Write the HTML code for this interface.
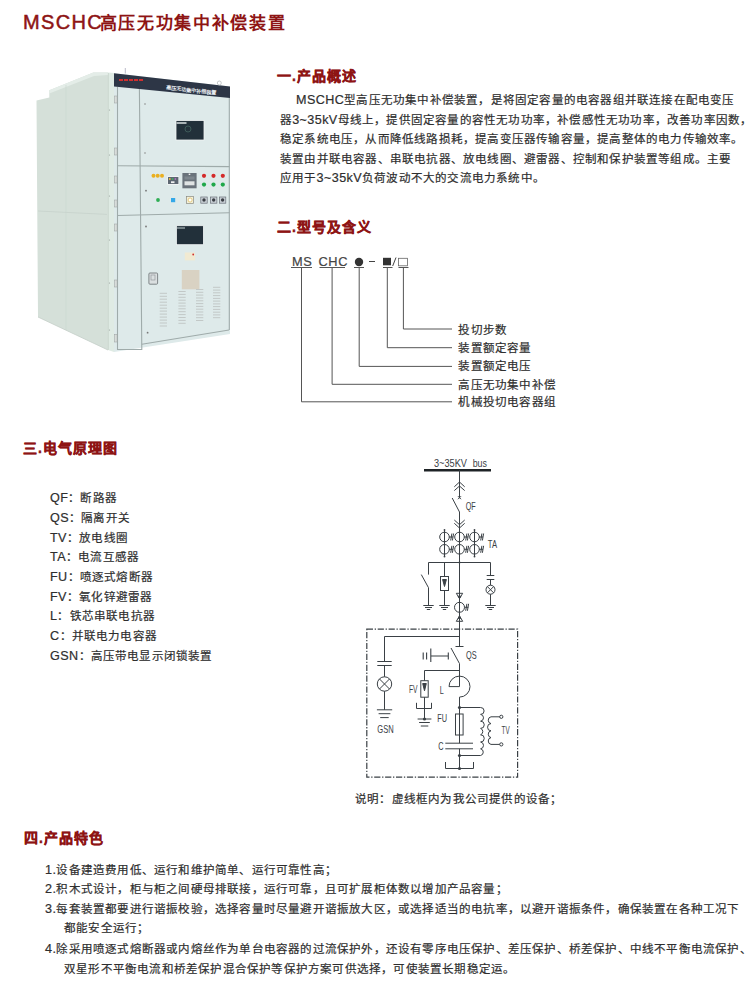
<!DOCTYPE html>
<html lang="zh-CN">
<head>
<meta charset="utf-8">
<style>

html,body{margin:0;padding:0;background:#fff;}
body{width:750px;height:990px;position:relative;overflow:hidden;font-family:"Liberation Sans",sans-serif;color:#333;}
.t{position:absolute;white-space:nowrap;font-size:11.5px;letter-spacing:1.2px;line-height:20px;color:#2e2e2e;-webkit-text-stroke:0.2px #2e2e2e;}
.l{font-size:12.6px;letter-spacing:0.4px;}
.h{position:absolute;white-space:nowrap;font-size:14px;letter-spacing:1px;line-height:20px;font-weight:bold;color:#8e1414;-webkit-text-stroke:0.35px #8e1414;}
#title{position:absolute;left:23px;top:10px;line-height:24px;color:#8e1414;white-space:nowrap;}
#title .a{font-size:20px;letter-spacing:1.35px;-webkit-text-stroke:0.5px #8e1414;}
#title .b{font-size:17px;letter-spacing:1.67px;font-weight:bold;margin-left:-3.5px;}
svg{position:absolute;left:0;top:0;}

</style>
</head>
<body>
<svg width="750" height="990" viewBox="0 0 750 990">
  <!-- cabinet -->
  <g id="cab">
    <!-- side panel -->
    <polygon points="36.5,100.5 49.3,97.5 49.3,90.2 93.3,72.6 108,72.6 108,350 38,317" fill="#d5e0d9"/>
    <polygon points="49.3,90.2 93.3,72.6 108,72.6 108,75 94,76 49.3,93.5" fill="#e4ede8"/>
    <path d="M66,85V330" stroke="#ccd8d1" stroke-width="0.7"/>
    <path d="M38,211L107,214.4" stroke="#c6d2cb" stroke-width="0.8"/>
    <path d="M38,317L108,350" stroke="#c4cec8" stroke-width="0.8"/>
    <!-- pillar -->
    <polygon points="108,72.6 114,73 114,352 108,350" fill="#dfebe4"/>
    <path d="M108.4,73V350" stroke="#c8d4cd" stroke-width="0.8"/>
    <!-- front face -->
    <polygon points="114,73.3 230,86.6 230,334 114,352" fill="#deeaea"/>
    <polygon points="114,73.3 230,86.6 230,97.9 114,86.5" fill="#2d3646"/>
    <path d="M119,80h4M124,80h4M129,80h4M134,80h4M139,80h4" stroke="#d03030" stroke-width="2.2"/>
    <text x="166" y="89.3" font-size="5.2" fill="#e8ecf0" font-family="Liberation Sans, sans-serif" transform="rotate(6.5 166 91)" font-weight="bold">高压无功集中补偿装置</text>
    <circle cx="219.3" cy="83" r="2" fill="none" stroke="#b8bcbe" stroke-width="0.8"/>
    <path d="M125.3,68V73.5" stroke="#aab" stroke-width="0.8"/>
    <!-- doors -->
    <g stroke="#9fabaa" stroke-width="1.1" fill="none">
      <path d="M117.5,87V349.5H141.8L139.4,89"/>
      <path d="M117.5,165.8L229.5,166.6M117.5,215.5L229.5,212.8"/>
      <path d="M141.8,344.2L229,330"/>
      <path d="M229.3,98V330"/>
    </g>
    <!-- top window -->
    <rect x="176" y="120.5" width="28" height="19.5" fill="#22303a" stroke="#f2f5f5" stroke-width="0.8"/>
    <path d="M176.5,123h10" stroke="#e6ecec" stroke-width="1.4"/><circle cx="188" cy="129" r="3" fill="none" stroke="#3d5a58" stroke-width="1"/>
    <circle cx="145" cy="104" r="0.8" fill="#888"/>
    <circle cx="145" cy="153" r="0.8" fill="#888"/>
    <!-- control panel -->
    <circle cx="153.5" cy="175.8" r="2" fill="#eab020"/>
    <circle cx="157.7" cy="175.8" r="2" fill="#eab020"/>
    <circle cx="162" cy="175.8" r="2" fill="#eab020"/>
    <rect x="167.3" y="176.2" width="11.7" height="8.6" fill="#f4f6f6"/>
    <rect x="168" y="177" width="10.4" height="7" fill="#5d6772"/>
    <circle cx="169.8" cy="179" r="0.9" fill="#e8c040"/><circle cx="172.6" cy="179" r="0.9" fill="#40b060"/><circle cx="175.4" cy="179" r="0.9" fill="#b070c0"/>
    <rect x="171" y="181.3" width="3.5" height="1.8" fill="#f0f0f0"/>
    <rect x="182.4" y="173" width="14.2" height="15.3" fill="#6a737b"/>
    <rect x="188.7" y="173.6" width="1.6" height="1.4" fill="#f0f0f0"/>
    <rect x="184.5" y="176.5" width="10" height="3" fill="#7e878e"/>
    <rect x="184.5" y="181.3" width="10" height="4" fill="#e0e4e4"/>
    <circle cx="204" cy="175.8" r="2.1" fill="#d42a2a"/>
    <circle cx="213.5" cy="175.8" r="2.1" fill="#d42a2a"/>
    <circle cx="222.8" cy="175.8" r="2.1" fill="#d42a2a"/>
    <circle cx="204" cy="184.6" r="2.1" fill="#1fa84a"/>
    <circle cx="213.5" cy="184.6" r="2.1" fill="#1fa84a"/>
    <circle cx="222.8" cy="184.6" r="2.1" fill="#1fa84a"/>
    <circle cx="146" cy="190.7" r="0.9" fill="#777"/>
    <circle cx="158" cy="200" r="1.9" fill="#2fae55"/>
    <rect x="171" y="198" width="4.2" height="4.2" fill="#34a8e8"/>
    <rect x="186.6" y="196.5" width="7" height="7" fill="#f3efd8" stroke="#8a8a80" stroke-width="0.7"/>
    <circle cx="190.1" cy="200" r="2" fill="#fff" stroke="#d8b040" stroke-width="0.6"/>
    <rect x="200.8" y="197" width="6.4" height="6.2" fill="#c9d0d6" stroke="#6a7078" stroke-width="0.7"/>
    <rect x="210.5" y="197" width="6.4" height="6.2" fill="#c9d0d6" stroke="#6a7078" stroke-width="0.7"/>
    <rect x="219.4" y="197" width="6.4" height="6.2" fill="#c9d0d6" stroke="#6a7078" stroke-width="0.7"/>
    <circle cx="204" cy="200" r="1.7" fill="#3a3e44"/>
    <circle cx="213.7" cy="200" r="1.7" fill="#3a3e44"/>
    <circle cx="222.6" cy="200" r="1.7" fill="#3a3e44"/>
    <!-- lower door -->
    <rect x="176.4" y="225.7" width="27" height="19" fill="#22303a" stroke="#f2f5f5" stroke-width="0.8"/><path d="M177,228h8" stroke="#a9b6b8" stroke-width="1.2"/>
    <rect x="184.8" y="252.5" width="10.2" height="7.9" fill="#f1ead2"/>
    <circle cx="193.2" cy="254.5" r="0.9" fill="#d03030"/>
    <rect x="181.8" y="270" width="17.6" height="19.3" fill="#d9d2c3"/>
    <rect x="148.9" y="273" width="8.7" height="11.2" rx="1" fill="#dadfe0" stroke="#747a7e" stroke-width="0.9"/>
    <rect x="151" y="275" width="4" height="5" fill="none" stroke="#8a9094" stroke-width="0.6"/>
    <circle cx="146" cy="226.5" r="0.9" fill="#777"/>
    <circle cx="147.6" cy="332.7" r="0.9" fill="#777"/>
    <path d="M159.7,293.3h7.3M159.7,296.3h7.3M159.7,299.2h7.3M159.7,302.2h7.3M159.7,305.2h7.3M159.7,308.2h7.3M159.7,311.1h7.3M159.7,314.1h7.3M159.7,317.1h7.3M159.7,320.1h7.3M159.7,323.0h7.3M159.7,326.0h7.3M178.4,291.5h7.3M178.4,294.4h7.3M178.4,297.3h7.3M178.4,300.2h7.3M178.4,303.1h7.3M178.4,306.0h7.3M178.4,308.8h7.3M178.4,311.7h7.3M178.4,314.6h7.3M178.4,317.5h7.3M178.4,320.4h7.3M178.4,323.3h7.3M196.0,289.5h7.3M196.0,292.3h7.3M196.0,295.1h7.3M196.0,298.0h7.3M196.0,300.8h7.3M196.0,303.6h7.3M196.0,306.4h7.3M196.0,309.2h7.3M196.0,312.0h7.3M196.0,314.9h7.3M196.0,317.7h7.3M196.0,320.5h7.3M213.0,287.3h7.3M213.0,290.1h7.3M213.0,292.8h7.3M213.0,295.6h7.3M213.0,298.4h7.3M213.0,301.1h7.3M213.0,303.9h7.3M213.0,306.6h7.3M213.0,309.4h7.3M213.0,312.2h7.3M213.0,314.9h7.3M213.0,317.7h7.3" stroke="#c2c8c7" stroke-width="1"/>
    <!-- hinges -->
    <g fill="#d8dcda" stroke="#9aa09e" stroke-width="0.5">
      <rect x="114.5" y="96" width="2.6" height="7"/>
      <rect x="114.5" y="148" width="2.6" height="7"/>
      <rect x="114.5" y="176" width="2.6" height="7"/>
      <rect x="114.5" y="200" width="2.6" height="7"/>
      <rect x="114.5" y="224" width="2.6" height="7"/>
      <rect x="114.5" y="280" width="2.6" height="7"/>
      <rect x="114.5" y="334.5" width="2.6" height="7.5"/>
    </g>
    <g fill="#9aa09e">
      <circle cx="109.5" cy="110" r="0.6"/><circle cx="109.5" cy="155" r="0.6"/><circle cx="109.5" cy="196" r="0.6"/><circle cx="109.5" cy="240" r="0.6"/><circle cx="109.5" cy="283" r="0.6"/><circle cx="109.5" cy="330" r="0.6"/>
    </g>
  </g>
  <!-- model code diagram -->
  <g id="model" stroke="#555" stroke-width="1" fill="none">
    <path d="M291,267.5H312M319.5,267.5H345M354,267.5H364M383,267.5H392.5M398.5,267.5H408.5"/>
    <path d="M301.5,267.5V401.8H452M332.1,267.5V384.3H452M359.2,267.5V366.4H452M387.3,267.5V347.7H452M403.4,267.5V329H452"/>
    <circle cx="359" cy="262" r="4.2" fill="#333" stroke="none"/>
    <path d="M369,261.5H375" stroke="#444"/>
    <rect x="383" y="257.8" width="8" height="7.5" fill="#333" stroke="none"/>
    <path d="M396,257.5L392.7,266" stroke="#444"/>
    <rect x="398.5" y="258.3" width="9" height="7.5" fill="#fff" stroke="#666" stroke-width="0.8"/>
  </g>
  <!-- circuit diagram -->
  <g id="circ" stroke="#3a4045" stroke-width="1" fill="none">
    <path d="M424,470.2H491" stroke="#1e2326" stroke-width="2.4"/>
    <path d="M459.5,470.2V497.5M454.3,486.8L459.5,482L464.7,486.8M454.3,490.6L459.5,486L464.7,490.6"/>
    <path d="M458,496.2l3,3M461,496.2l-3,3"/>
    <path d="M452.2,498L459.5,512"/>
    <path d="M459.5,512V562.5"/>
    <path d="M454.3,520L459.5,524.7L464.7,520M454.3,523.3L459.5,528L464.7,523.3"/>
    <!-- TA -->
    <path d="M444.5,530V557M474.5,530V557"/>
    <circle cx="444.5" cy="537" r="4.8"/><path d="M449.1,537H453.0M450.7,540.5L451.9,533.5M452.4,540.5L453.6,533.5"/><circle cx="459.5" cy="537" r="4.8"/><path d="M464.1,537H468.0M465.7,540.5L466.9,533.5M467.4,540.5L468.6,533.5"/><circle cx="474.5" cy="537" r="4.8"/><path d="M479.1,537H483.0M480.7,540.5L481.9,533.5M482.4,540.5L483.6,533.5"/>
    <circle cx="444.5" cy="549.3" r="4.8"/><path d="M449.1,549.3H453.0M450.7,552.8L451.9,545.8M452.4,552.8L453.6,545.8"/><circle cx="459.5" cy="549.3" r="4.8"/><path d="M464.1,549.3H468.0M465.7,552.8L466.9,545.8M467.4,552.8L468.6,545.8"/><circle cx="474.5" cy="549.3" r="4.8"/><path d="M479.1,549.3H483.0M480.7,552.8L481.9,545.8M482.4,552.8L483.6,545.8"/>
    <!-- branches -->
    <path d="M428.5,574.6V562.5H490.5V575.4"/>
    <path d="M421.3,574.6L428.5,587.7V605.5"/>
    <path d="M423.3,605.5h10.4M425.0,607.5h7M426.8,609.5h3.4"/>
    <path d="M444.5,562.5V576.5"/>
    <rect x="440.5" y="576.5" width="8" height="14"/>
    <path d="M444.5,590.5V605.5M439.3,605.5h10.4M441.0,607.5h7M442.8,609.5h3.4"/>
    <path d="M442.6,579.5H446.4L444.5,586.5Z" fill="#3a4045"/>
    <path d="M486.7,575.5H494.3M486.7,579.5H494.3M490.5,579.5V585.2"/>
    <circle cx="490.5" cy="589.7" r="4.5"/>
    <path d="M487.3,586.5L493.7,592.9M493.7,586.5L487.3,592.9"/>
    <path d="M490.5,594.2V605.5M485.3,605.5h10.4M487.0,607.5h7M488.8,609.5h3.4"/>
    <!-- main line below TA -->
    <path d="M459.5,562.5V646.8"/>
    <path d="M456.3,593.3H462.7L459.5,598.6Z"/><path d="M458.2,596.2H460.8L459.5,598.6Z" fill="#3a4045"/>
    <circle cx="459.5" cy="607.3" r="5"/><path d="M464.5,607.3H468.3M465.7,610.8L466.9,603.8M467.4,610.8L468.6,603.8"/>
    <path d="M456.3,621.3H462.7L459.5,616Z"/><path d="M458.2,618.4H460.8L459.5,616Z" fill="#3a4045"/>
    <!-- dashed box -->
    <rect x="366.8" y="629.2" width="150.8" height="148" stroke-dasharray="6.2,1.7,1.3,1.7" stroke-width="1.2"/>
    <!-- GSN -->
    <path d="M459.5,636.5H384.5V661.5M377.3,661.5H391.7M377.3,665.5H391.7M384.5,665.5V676.8"/>
    <circle cx="384.5" cy="684" r="7.2"/>
    <path d="M379.4,678.9L389.6,689.1M389.6,678.9L379.4,689.1"/>
    <path d="M384.5,691.2V709.8M376.9,709.8h15.3M378.6,713.6999999999999h11.8M380.2,717.5999999999999h8.5"/>
    <!-- QS -->
    <path d="M455.5,646.5H463.5M451,648L459.5,663.6V686.6H449A10.5,10.5 0 1 1 459.5,697.1V707.5"/>
    <path d="M423.2,652.4V659.6M426.6,652.4V659.6M430.8,648.4V662M430.8,656H448.3M448.3,652.5V659.5" stroke-width="1.1"/>
    <!-- FV -->
    <path d="M459.5,670.5H424.5V680.7"/>
    <rect x="420.8" y="680.7" width="7.4" height="16.5"/>
    <path d="M422.7,683.5H426.3L424.5,690.8Z" fill="#3a4045"/>
    <path d="M424.5,697.2V719M416.5,702.8V708.5H431.5V702.8"/>
    <path d="M417.6,719h13.8M419.1,722.5h10.7M420.8,726.0h7.5"/>
    <!-- FU / C / TV -->
    <path d="M459.5,707.5V714"/>
    <rect x="455.5" y="714" width="7.6" height="21"/>
    <path d="M459.5,714V743.2M445.3,743.2H473M445.3,748.8H473M459.5,748.8V768.5"/>
    <path d="M445.5,762V768.5H473.5V762"/>
    <path d="M459.5,707.5H480.6A3.5,3.45 0 0 1 480.6,714.4A3.5,3.45 0 0 1 480.6,721.2A3.5,3.45 0 0 1 480.6,728.4A3.5,3.45 0 0 1 480.6,734.8A3.5,3.45 0 0 1 480.6,742A3.5,3.45 0 0 1 480.6,748.8A3.5,3.45 0 0 1 480.6,755.5H459.5"/>
    <path d="M500,716.8H491A3.3,3.45 0 0 0 491,723.6A3.3,3.45 0 0 0 491,730.8A3.3,3.45 0 0 0 491,737.6A3.3,3.45 0 0 0 491,744.4H500"/>
    <circle cx="501.3" cy="716.8" r="1.6" fill="#fff"/>
    <circle cx="501.3" cy="744.4" r="1.6" fill="#fff"/>
    <g fill="#3a4045" stroke="none">
      <circle cx="444.5" cy="530" r="0.9"/><circle cx="444.5" cy="556.5" r="0.9"/>
      <circle cx="474.5" cy="530" r="0.9"/><circle cx="474.5" cy="556.5" r="0.9"/>
      <circle cx="459.5" cy="562.5" r="1"/>
      <circle cx="424.5" cy="719" r="1.6"/>
      <circle cx="459.5" cy="707.5" r="1.6"/>
      <circle cx="459.5" cy="755.5" r="1.6"/>
      <circle cx="459.5" cy="768.5" r="1.6"/>
    </g>
  </g>
  <g fill="#3a4045" font-family="Liberation Sans, sans-serif" font-size="10.8" style="white-space:pre">
    <text x="434" y="467" textLength="33" lengthAdjust="spacingAndGlyphs">3~35KV</text><text x="472.7" y="467" textLength="14.3" lengthAdjust="spacingAndGlyphs">bus</text>
    <text x="465.7" y="510" textLength="10" lengthAdjust="spacingAndGlyphs">QF</text>
    <text x="487.8" y="547.8" textLength="9.2" lengthAdjust="spacingAndGlyphs">TA</text>
    <text x="466.1" y="659.2" textLength="10.7" lengthAdjust="spacingAndGlyphs">QS</text>
    <text x="409" y="692.8" textLength="8.6" lengthAdjust="spacingAndGlyphs">FV</text>
    <text x="439.7" y="693.9" textLength="4" lengthAdjust="spacingAndGlyphs">L</text>
    <text x="437.2" y="722.1" textLength="9.8" lengthAdjust="spacingAndGlyphs">FU</text>
    <text x="438.3" y="750.3" textLength="5.3" lengthAdjust="spacingAndGlyphs">C</text>
    <text x="501.6" y="734" textLength="8" lengthAdjust="spacingAndGlyphs">TV</text>
    <text x="377.3" y="733.3" textLength="16.4" lengthAdjust="spacingAndGlyphs">GSN</text>
  </g>
</svg>

<div id="title"><span class="a">MSCHC</span><span class="b">高压无功集中补偿装置</span></div>
<div class="h" style="left:277px;top:65.5px">一.产品概述</div>
<div class="h" style="left:277px;top:217px">二.型号及含义</div>
<div class="h" style="left:23px;top:438px">三.电气原理图</div>
<div class="h" style="left:24px;top:828px">四.产品特色</div>
<div class="t" style="left:292px;top:252px;color:#444"><span class="l" style="font-size:12.8px;letter-spacing:0.6px;color:#4a4a4a">MS</span></div>
<div class="t" style="left:318.5px;top:252px;color:#444"><span class="l" style="font-size:12.8px;letter-spacing:0.6px;color:#4a4a4a">CHC</span></div>
<div class="t" style="left:296px;top:89.8px;"><span class="l">MSCHC</span>型高压无功集中补偿装置，是将固定容量的电容器组并联连接在配电变压</div>
<div class="t" style="left:280px;top:109.7px;">器<span class="l">3~35kV</span>母线上，提供固定容量的容性无功功率，补偿感性无功功率，改善功率因数，</div>
<div class="t" style="left:280px;top:129.2px;">稳定系统电压，从而降低线路损耗，提高变压器传输容量，提高整体的电力传输效率。</div>
<div class="t" style="left:280px;top:148.7px;">装置由并联电容器、串联电抗器、放电线圈、避雷器、控制和保护装置等组成。主要</div>
<div class="t" style="left:280px;top:168.3px;">应用于<span class="l">3~35kV</span>负荷波动不大的交流电力系统中。</div>
<div class="t" style="left:458.4px;top:320px;">投切步数</div>
<div class="t" style="left:458.4px;top:337.7px;">装置额定容量</div>
<div class="t" style="left:458.4px;top:356.4px;">装置额定电压</div>
<div class="t" style="left:458.4px;top:374.6px;">高压无功集中补偿</div>
<div class="t" style="left:458.4px;top:392.3px;">机械投切电容器组</div>
<div class="t" style="left:50px;top:488px;"><span class="l">QF</span>：断路器</div>
<div class="t" style="left:50px;top:508px;"><span class="l">QS</span>：隔离开关</div>
<div class="t" style="left:50px;top:528px;"><span class="l">TV</span>：放电线圈</div>
<div class="t" style="left:50px;top:547px;"><span class="l">TA</span>：电流互感器</div>
<div class="t" style="left:50px;top:567px;"><span class="l">FU</span>：喷逐式熔断器</div>
<div class="t" style="left:50px;top:587px;"><span class="l">FV</span>：氧化锌避雷器</div>
<div class="t" style="left:50px;top:606px;"><span class="l">L</span>：铁芯串联电抗器</div>
<div class="t" style="left:50px;top:626px;"><span class="l">C</span>：并联电力电容器</div>
<div class="t" style="left:50px;top:646px;"><span class="l">GSN</span>：高压带电显示闭锁装置</div>
<div class="t" style="left:355px;top:789px;">说明：虚线框内为我公司提供的设备；</div>
<div class="t" style="left:45px;top:860px;"><span class="l">1.</span>设备建造费用低、运行和维护简单、运行可靠性高；</div>
<div class="t" style="left:45px;top:879px;"><span class="l">2.</span>积木式设计，柜与柜之间硬母排联接，运行可靠，且可扩展柜体数以增加产品容量；</div>
<div class="t" style="left:45px;top:899px;"><span class="l">3.</span>每套装置都要进行谐振校验，选择容量时尽量避开谐振放大区，或选择适当的电抗率，以避开谐振条件，确保装置在各种工况下</div>
<div class="t" style="left:64px;top:918px;">都能安全运行；</div>
<div class="t" style="left:45px;top:939px;"><span class="l">4.</span>除采用喷逐式熔断器或内熔丝作为单台电容器的过流保护外，还设有零序电压保护、差压保护、桥差保护、中线不平衡电流保护、</div>
<div class="t" style="left:64px;top:959px;">双星形不平衡电流和桥差保护混合保护等保护方案可供选择，可使装置长期稳定运。</div>
</body>
</html>
